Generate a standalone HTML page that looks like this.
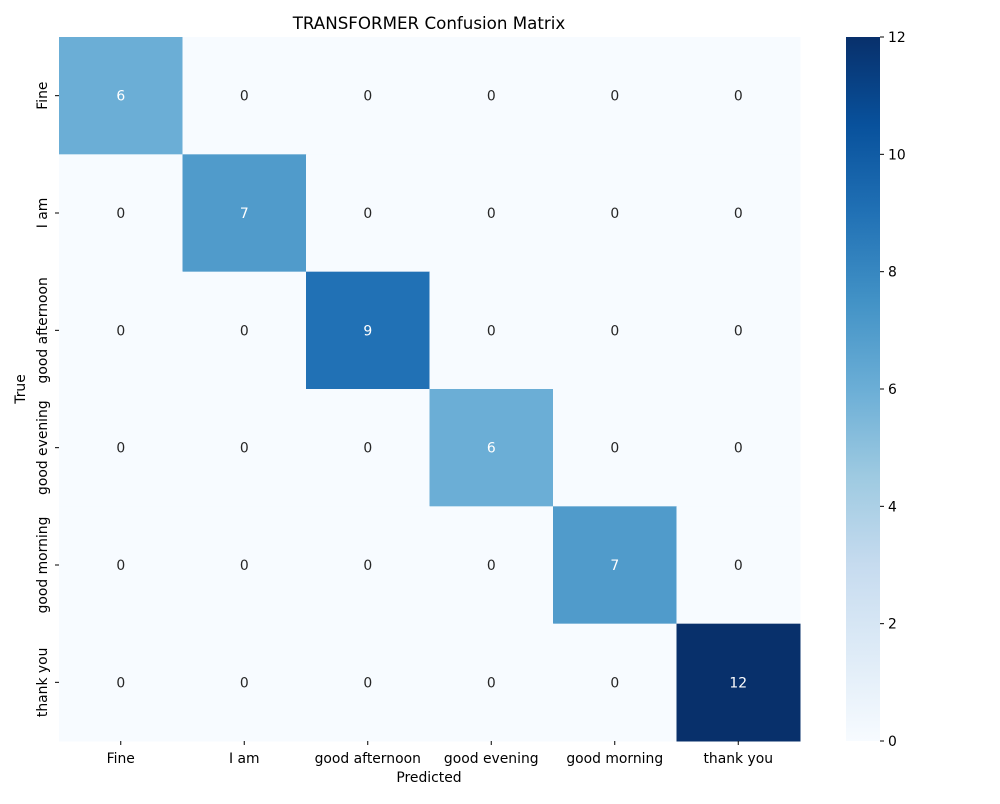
<!DOCTYPE html>
<html><head><meta charset="utf-8"><style>
body{margin:0;background:#fff;font-family:"DejaVu Sans","Liberation Sans",sans-serif;}
</style></head><body>
<svg id="chart" width="1000" height="800" xmlns="http://www.w3.org/2000/svg" font-family="DejaVu Sans, Liberation Sans, sans-serif">
<defs><linearGradient id="cbgrad" x1="0" y1="1" x2="0" y2="0">
<stop offset="0" stop-color="#f7fbff"/><stop offset="0.125" stop-color="#deebf7"/><stop offset="0.25" stop-color="#c6dbef"/><stop offset="0.375" stop-color="#9ecae1"/><stop offset="0.5" stop-color="#6baed6"/><stop offset="0.625" stop-color="#4292c6"/><stop offset="0.75" stop-color="#2171b5"/><stop offset="0.875" stop-color="#08519c"/><stop offset="1" stop-color="#08306b"/>
</linearGradient></defs>
<text x="429" y="29" text-anchor="middle" font-size="16.7">TRANSFORMER Confusion Matrix</text>
<g id="cells"></g>
<text x="429" y="782" text-anchor="middle" font-size="13.9">Predicted</text>
<text transform="translate(25,389) rotate(-90)" text-anchor="middle" font-size="13.9">True</text>
<rect x="846" y="37" width="34" height="704" fill="url(#cbgrad)"/>
<g id="cbticks"></g>
</svg>
<script>
const labels = ["Fine","I am","good afternoon","good evening","good morning","thank you"];
const matrix = [
[6,0,0,0,0,0],
[0,7,0,0,0,0],
[0,0,9,0,0,0],
[0,0,0,6,0,0],
[0,0,0,0,7,0],
[0,0,0,0,0,12]];
const cbTicks = [0,2,4,6,8,10,12];
const vmin=0, vmax=12;
const X0=59,X1=800,Y0=37,Y1=741;
const stops=["#f7fbff","#deebf7","#c6dbef","#9ecae1","#6baed6","#4292c6","#2171b5","#08519c","#08306b"];
function hex(h){return [1,3,5].map(i=>parseInt(h.substr(i,2),16));}
function color(v){let t=(v-vmin)/(vmax-vmin)*8;let i=Math.min(7,Math.floor(t));let f=t-i;let a=hex(stops[i]),b=hex(stops[i+1]);
return "rgb("+a.map((c,k)=>Math.round(c+(b[k]-c)*f)).join(",")+")";}
const NS="http://www.w3.org/2000/svg";
const n=labels.length,cw=(X1-X0)/n,ch=(Y1-Y0)/n;
const g=document.getElementById("cells");
function mk(tag,attrs,parent){const e=document.createElementNS(NS,tag);for(const k in attrs)e.setAttribute(k,attrs[k]);parent.appendChild(e);return e;}
matrix.forEach((row,r)=>row.forEach((v,c)=>{
 const rc=mk("rect",{x:X0+c*cw,y:Y0+r*ch,width:cw+0.5,height:ch+0.5,fill:color(v)},g);
 
 
 const t=mk("text",{x:X0+(c+0.5)*cw,y:Y0+(r+0.5)*ch+5,"text-anchor":"middle","font-size":13.9,fill:(v/vmax>=0.45?"#fff":"#262626")},g);
 t.textContent=v;
 
 
}));
labels.forEach((l,i)=>{
 const x=X0+(i+0.5)*cw;
 mk("line",{x1:x,x2:x,y1:Y1,y2:Y1+4,stroke:"#000"},g);
 const t=mk("text",{x:x,y:Y1+22,"text-anchor":"middle","font-size":13.9},g);
 t.textContent=l;
 
 
 const y=Y0+(i+0.5)*ch;
 mk("line",{x1:X0-4,x2:X0,y1:y,y2:y,stroke:"#000"},g);
 const t2=mk("text",{transform:"translate("+(X0-12)+","+y+") rotate(-90)","text-anchor":"middle","font-size":13.9},g);
 t2.textContent=l;
 
 
});
const cg=document.getElementById("cbticks");
cbTicks.forEach(v=>{
 const y=Y1-(v-vmin)/(vmax-vmin)*(Y1-Y0);
 mk("line",{x1:880,x2:884,y1:y,y2:y,stroke:"#000"},cg);
 const t=mk("text",{x:888,y:y+5,"font-size":13.9},cg);
 t.textContent=v;
 
 
});
</script>
</body></html>
